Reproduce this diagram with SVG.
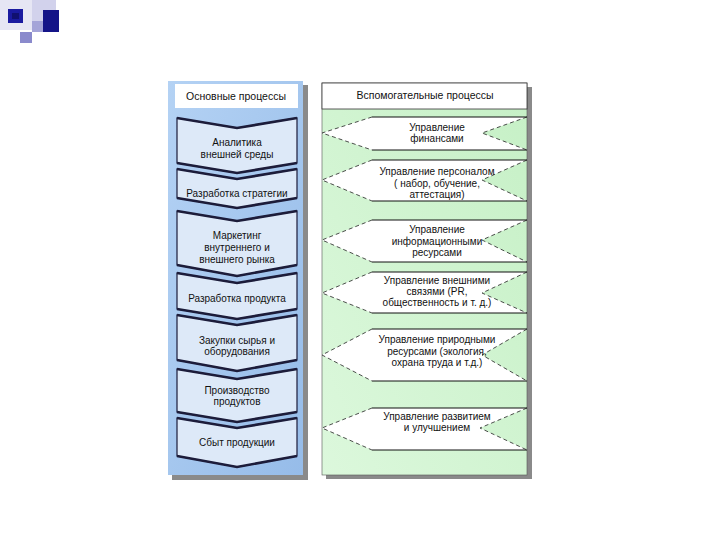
<svg xmlns="http://www.w3.org/2000/svg" width="720" height="540" viewBox="0 0 720 540">
<style>
text{font-family:"Liberation Sans",Arial,sans-serif;font-size:10px;fill:#111;text-anchor:middle}
.hdr{font-size:10.5px}
.chev{fill:#dde9f8;stroke:#1c1c3a;stroke-width:1.2}
.edge{fill:none;stroke:#1c1c3a;stroke-width:2.6}
.sup{fill:#fff;stroke:none}
.solid{fill:none;stroke:#111;stroke-width:1}
.dash{fill:none;stroke:#222;stroke-width:0.8;stroke-dasharray:4 3}
.shadow{fill:#8a8a8a}
</style>
<defs>
<linearGradient id="gBlue" x1="0" y1="0" x2="1" y2="1">
<stop offset="0" stop-color="#b4d2f4"/><stop offset="1" stop-color="#96bce9"/>
</linearGradient>
<linearGradient id="gGreen" x1="1" y1="0" x2="0" y2="1">
<stop offset="0" stop-color="#c6f0c6"/><stop offset="1" stop-color="#dcf8dc"/>
</linearGradient>
</defs>
<g id="decor">
<rect x="0" y="0" width="44" height="30" fill="#e6e6f4"/>
<rect x="32" y="0" width="24" height="22" fill="#d2d2ec"/>
<rect x="8" y="9" width="15" height="14" fill="#1a1aa0"/>
<rect x="12" y="13" width="7" height="6" fill="#101070"/>
<rect x="43" y="10" width="16" height="22" fill="#141488"/>
<rect x="32" y="21" width="11" height="11" fill="#a4a4d8"/>
<rect x="20" y="32" width="12" height="11" fill="#8a8acc"/>
</g>
<g id="left-panel">
<rect class="shadow" x="172" y="85" width="136" height="395"/>
<rect x="168" y="81" width="135" height="394" fill="url(#gBlue)"/>
<rect x="175" y="84" width="123" height="24" fill="#fff"/>
<text class="hdr" x="236" y="100">Основные процессы</text>
</g>
<g id="chev1">
<polygon class="chev" points="177,118 237,128 297,118 297,163 237,173 177,163"/>
<polyline class="edge" points="177,118 237,128 297,118"/><polyline class="edge" points="177,163 237,173 297,163"/>
<text x="237" y="146">Аналитика</text><text x="237" y="158">внешней среды</text>
</g>
<g id="chev2">
<polygon class="chev" points="177,169 237,179 297,169 297,198 237,208 177,198"/>
<polyline class="edge" points="177,169 237,179 297,169"/><polyline class="edge" points="177,198 237,208 297,198"/>
<text x="237" y="197">Разработка стратегии</text>
</g>
<g id="chev3">
<polygon class="chev" points="177,211 237,221 297,211 297,265 237,276 177,265"/>
<polyline class="edge" points="177,211 237,221 297,211"/><polyline class="edge" points="177,265 237,276 297,265"/>
<text x="237" y="239">Маркетинг</text><text x="237" y="251">внутреннего и</text><text x="237" y="263">внешнего рынка</text>
</g>
<g id="chev4">
<polygon class="chev" points="177,273 237,283 297,273 297,309 237,319 177,309"/>
<polyline class="edge" points="177,273 237,283 297,273"/><polyline class="edge" points="177,309 237,319 297,309"/>
<text x="237" y="302">Разработка продукта</text>
</g>
<g id="chev5">
<polygon class="chev" points="177,315 237,325 297,315 297,360 237,371 177,360"/>
<polyline class="edge" points="177,315 237,325 297,315"/><polyline class="edge" points="177,360 237,371 297,360"/>
<text x="237" y="344">Закупки сырья и</text><text x="237" y="355">оборудования</text>
</g>
<g id="chev6">
<polygon class="chev" points="177,369 237,379 297,369 297,412 237,422 177,412"/>
<polyline class="edge" points="177,369 237,379 297,369"/><polyline class="edge" points="177,412 237,422 297,412"/>
<text x="237" y="394">Производство</text><text x="237" y="405">продуктов</text>
</g>
<g id="chev7">
<polygon class="chev" points="177,418 237,428 297,418 297,456 237,467 177,456"/>
<polyline class="edge" points="177,418 237,428 297,418"/><polyline class="edge" points="177,456 237,467 297,456"/>
<text x="237" y="446">Сбыт продукции</text>
</g>
<g id="right-panel">
<rect class="shadow" x="326" y="87" width="206" height="392"/>
<rect x="322" y="83" width="205" height="392" fill="url(#gGreen)" stroke="#555" stroke-width="0.6"/>
<rect x="322" y="83" width="205" height="26" fill="#fff" stroke="#333" stroke-width="0.8"/>
<text class="hdr" x="425" y="99">Вспомогательные процессы</text>
</g>
<g id="sup1">
<polygon class="sup" points="322,133 372,117 527,117 482,133 527,150 372,150"/>
<line class="solid" x1="372" y1="117" x2="527" y2="117"/><line class="solid" x1="372" y1="150" x2="527" y2="150"/>
<polyline class="dash" points="372,117 322,133 372,150"/><polyline class="dash" points="527,117 482,133 527,150"/>
<text x="437" y="131">Управление</text><text x="437" y="142">финансами</text>
</g>
<g id="sup2">
<polygon class="sup" points="322,180 372,160 527,160 482,180 527,201 372,201"/>
<line class="solid" x1="372" y1="160" x2="527" y2="160"/><line class="solid" x1="372" y1="201" x2="527" y2="201"/>
<polyline class="dash" points="372,160 322,180 372,201"/><polyline class="dash" points="527,160 482,180 527,201"/>
<text x="437" y="175">Управление персоналом</text><text x="437" y="187">( набор, обучение,</text><text x="437" y="198">аттестация)</text>
</g>
<g id="sup3">
<polygon class="sup" points="322,240 372,220 527,220 482,240 527,262 372,262"/>
<line class="solid" x1="372" y1="220" x2="527" y2="220"/><line class="solid" x1="372" y1="262" x2="527" y2="262"/>
<polyline class="dash" points="372,220 322,240 372,262"/><polyline class="dash" points="527,220 482,240 527,262"/>
<text x="437" y="233">Управление</text><text x="437" y="245">информационными</text><text x="437" y="256">ресурсами</text>
</g>
<g id="sup4">
<polygon class="sup" points="322,293 372,272 527,272 482,293 527,313 372,313"/>
<line class="solid" x1="372" y1="272" x2="527" y2="272"/><line class="solid" x1="372" y1="313" x2="527" y2="313"/>
<polyline class="dash" points="372,272 322,293 372,313"/><polyline class="dash" points="527,272 482,293 527,313"/>
<text x="437" y="284">Управление внешними</text><text x="437" y="295">связями (PR,</text><text x="437" y="306">общественность и т. д.)</text>
</g>
<g id="sup5">
<polygon class="sup" points="322,355 372,329 527,329 482,355 527,381 372,381"/>
<line class="solid" x1="372" y1="329" x2="527" y2="329"/><line class="solid" x1="372" y1="381" x2="527" y2="381"/>
<polyline class="dash" points="372,329 322,355 372,381"/><polyline class="dash" points="527,329 482,355 527,381"/>
<text x="437" y="343">Управление природными</text><text x="437" y="355">ресурсами (экология,</text><text x="437" y="366">охрана труда и т.д.)</text>
</g>
<g id="sup6">
<polygon class="sup" points="322,428 372,408 527,408 480,428 527,450 372,450"/>
<line class="solid" x1="372" y1="408" x2="527" y2="408"/><line class="solid" x1="372" y1="450" x2="527" y2="450"/>
<polyline class="dash" points="372,408 322,428 372,450"/><polyline class="dash" points="527,408 480,428 527,450"/>
<text x="437" y="420">Управление развитием</text><text x="437" y="431">и улучшением</text>
</g>
<g id="connectors"></g>
</svg>
